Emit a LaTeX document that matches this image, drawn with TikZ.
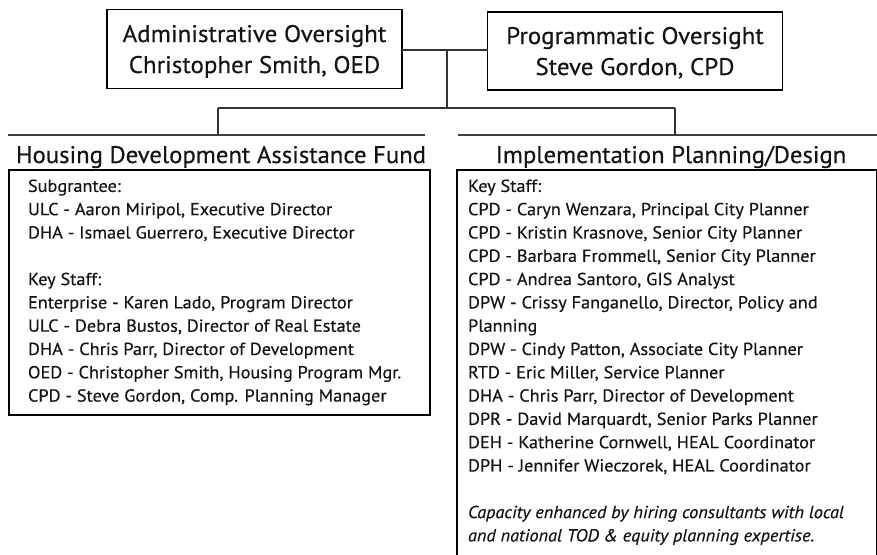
\documentclass[tikz,border=0pt]{standalone}
\usepackage{fontspec}
\setmainfont{PT Sans}
\newfontfamily\bodyfont[FakeStretch=1.05,FakeBold=0.4]{PT Sans}
\newfontfamily\titlefont[FakeStretch=1.03,FakeBold=0.4]{PT Sans}
\newfontfamily\headfont[FakeStretch=1.04,FakeBold=0.4]{PT Sans}
\begin{document}
\begin{tikzpicture}[x=1pt,y=-1pt,
  every node/.style={inner sep=0pt,outer sep=0pt,text=black!92},
  topbox/.style={draw=black,line width=1.8pt,minimum width=295pt},
  toptext/.style={align=center,anchor=base,font=\headfont\fontsize{24}{31}\selectfont},
  conn/.style={draw=black!80,line width=1.1pt},
  rule/.style={draw=black!75,line width=1.2pt},
  titletext/.style={font=\titlefont\fontsize{24}{28}\selectfont,anchor=base},
  panel/.style={draw=black,line width=1.8pt,anchor=north west},
  bodytext/.style={anchor=north west,align=left,font=\bodyfont\fontsize{17.4}{23.3}\selectfont}
]
\useasboundingbox (0,0) rectangle (877,554);
% top boxes
\node[topbox,minimum height=79pt] (admin) at (254.5,49) {};
\node[topbox,minimum height=78pt] (prog) at (635,51) {};
\node[toptext] (admintext) at (254.5,73) {Administrative Oversight\\Christopher Smith, OED};
\node[toptext] (progtext) at (635,75) {Programmatic Oversight\\Steve Gordon, CPD};
% junction coordinates
\coordinate (j) at (447,50);
\coordinate (k) at (447,108);
\coordinate (kl) at (218,108);
\coordinate (kr) at (675,108);
% title rules
\coordinate (lrA) at (8,135);
\coordinate (lrB) at (425,135);
\coordinate (rrA) at (458,135);
\coordinate (rrB) at (877,135);
\draw[rule] (lrA) -- (lrB);
\draw[rule] (rrA) -- (rrB);
% connectors
\draw[conn] (admin.east |- j) -- (prog.west |- j);
\draw[conn] (j) -- (k);
\draw[conn] (kl) -- (kr);
\draw[conn] (kl) -- (kl |- lrB);
\draw[conn] (kr) -- (kr |- rrA);
% titles
\node[titletext] (hdaf) at (221,163) {Housing Development Assistance Fund};
\node[titletext] (ipd) at (671,163) {Implementation Planning/Design};
% panels
\node[panel,minimum width=421pt,minimum height=245pt] (lbox) at (9,170) {};
\node[panel,minimum width=420pt,minimum height=390pt] (rbox) at (457,170) {};
% panel text
\node[bodytext] (ltext) at (28,179.5) {Subgrantee:\\
ULC - Aaron Miripol, Executive Director\\
DHA - Ismael Guerrero, Executive Director\\[23.3pt]
Key Staff:\\
Enterprise - Karen Lado, Program Director\\
ULC - Debra Bustos, Director of Real Estate\\
DHA - Chris Parr, Director of Development\\
OED - Christopher Smith, Housing Program Mgr.\\
CPD - Steve Gordon, Comp. Planning Manager};
\node[bodytext] (rtext) at (468,179.5) {Key Staff:\\
CPD - Caryn Wenzara, Principal City Planner\\
CPD - Kristin Krasnove, Senior City Planner\\
CPD - Barbara Frommell, Senior City Planner\\
CPD - Andrea Santoro, GIS Analyst\\
DPW - Crissy Fanganello, Director, Policy and\\
Planning\\
DPW - Cindy Patton, Associate City Planner\\
RTD - Eric Miller, Service Planner\\
DHA - Chris Parr, Director of Development\\
DPR - David Marquardt, Senior Parks Planner\\
DEH - Katherine Cornwell, HEAL Coordinator\\
DPH - Jennifer Wieczorek, HEAL Coordinator\\[23.3pt]
\itshape Capacity enhanced by hiring consultants with local\\
\itshape and national TOD \& equity planning expertise.};
\end{tikzpicture}
\end{document}
